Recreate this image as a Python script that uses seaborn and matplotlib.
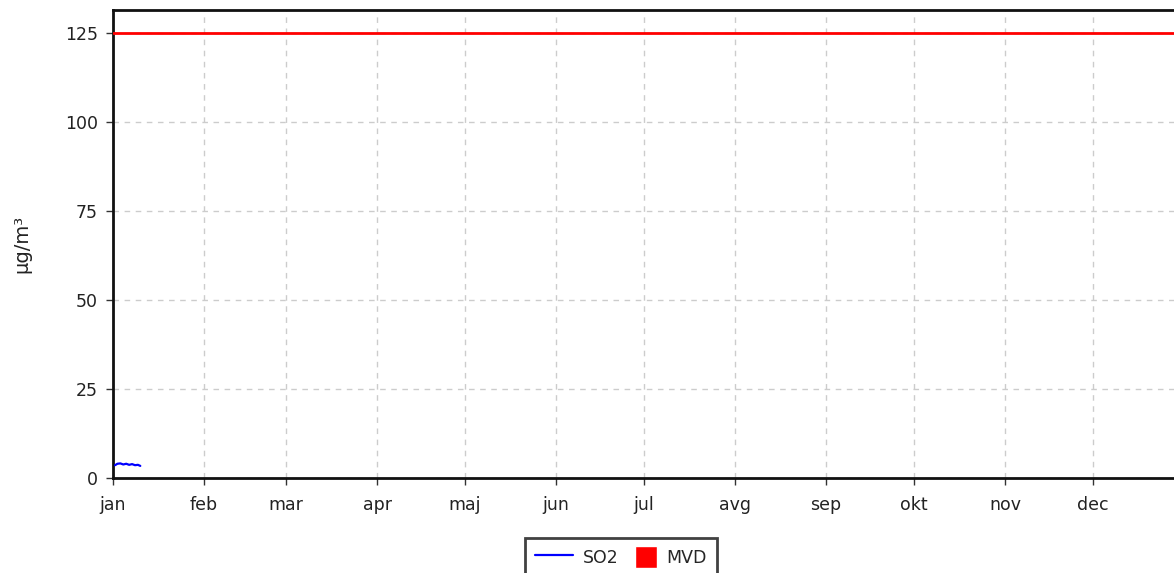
import numpy as np
import pandas as pd
import matplotlib
matplotlib.use("Agg")
import matplotlib.pyplot as plt
from matplotlib.lines import Line2D
from matplotlib.patches import Patch, Rectangle
from matplotlib.legend_handler import HandlerPatch
import seaborn as sns

# Data
months = ["jan", "feb", "mar", "apr", "maj", "jun", "jul", "avg", "sep", "okt", "nov", "dec"]
month_start_day = [0, 31, 59, 90, 120, 151, 181, 212, 243, 273, 304, 334]
so2_day = [0.7, 1.5, 2.5, 3.5, 4.5, 5.5, 6.5, 7.5, 8.5, 9.3]
so2_val = [3.6, 4.0, 4.1, 3.8, 4.0, 3.7, 3.9, 3.6, 3.7, 3.4]
mvd_day = [0, 365]
mvd_val = [125, 125]
y_ticks = [0, 25, 50, 75, 100, 125]

sns.set_style("white")
plt.rcParams['font.family'] = ['DejaVu Sans']

fig = plt.figure(figsize=(11.74, 5.73), dpi=100)
ax = fig.add_axes([113/1174, 1-478/573, 1071/1174, (478-10)/573])

df_so2 = pd.DataFrame({"day": so2_day, "val": so2_val})
df_mvd = pd.DataFrame({"day": mvd_day, "val": mvd_val})
sns.lineplot(data=df_mvd, x="day", y="val", color="#ff0000", lw=2, ax=ax, zorder=3)
sns.lineplot(data=df_so2, x="day", y="val", color="#0000ff", lw=1.6, ax=ax, zorder=4)

ax.set_xlim(0, 365)
ax.set_ylim(0, 131.5)
ax.set_xticks(month_start_day)
ax.set_xticklabels(months)
ax.set_yticks(y_ticks)
ax.set_xlabel("")
ax.set_ylabel("µg/m³", fontsize=14, color="#222222", labelpad=24)
ax.grid(True, color="#cccccc", linestyle=(0, (4, 4)), lw=1)
ax.set_axisbelow(True)
for s in ["left", "top", "bottom", "right"]:
    ax.spines[s].set_color("#111111")
    ax.spines[s].set_linewidth(2)
ax.tick_params(axis="both", which="both", direction="out", length=5, width=1,
               color="#333333", labelsize=12.5, labelcolor="#222222",
               bottom=True, left=True)
ax.tick_params(axis="x", pad=8)
ax.tick_params(axis="y", pad=6)


def square_patch(legend, orig_handle, xdescent, ydescent, width, height, fontsize):
    side = 16  # points
    return Rectangle((width - side - xdescent, -ydescent + height / 2 - side / 2), side, side,
                     facecolor="#ff0000", edgecolor="none")


handles = [Line2D([0], [0], color="#0000ff", lw=1.6),
           Patch(facecolor="#ff0000")]
leg = fig.legend(handles, ["SO2", "MVD"], loc="upper center",
                 bbox_to_anchor=(621/1174, 1-529/573), ncol=2, frameon=True,
                 fancybox=False, fontsize=12.5, handlelength=2.2, handleheight=1.2,
                 columnspacing=0.0, handletextpad=0.55, borderpad=0.6,
                 handler_map={Patch: HandlerPatch(patch_func=square_patch)})
leg.get_frame().set_edgecolor("#111111")
leg.get_frame().set_linewidth(2)
fig.savefig("out.png", dpi=100)
